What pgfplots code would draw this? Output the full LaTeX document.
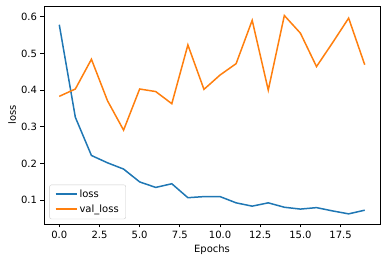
\documentclass[border=0pt]{standalone}
\usepackage{fontspec}
\setmainfont{DejaVu Sans}
\usepackage{pgfplots}
\pgfplotsset{compat=1.18}
\definecolor{mplblue}{HTML}{1F77B4}
\definecolor{mplorange}{HTML}{FF7F0E}
\begin{document}
\begin{tikzpicture}
\path[use as bounding box] (-44pt,-38pt) rectangle (342pt,224pt);
\begin{axis}[
  at={(0,0)}, anchor=south west,
  scale only axis, width=336pt, height=218pt,
  xmin=-0.95, xmax=19.95, ymin=0.0354, ymax=0.629,
  xtick={0,2.5,...,17.5}, ytick={0.1,0.2,0.3,0.4,0.5,0.6},
  tick align=outside, tick pos=left,
  major tick length=3.5pt,
  tick style={black, line width=0.8pt},
  axis line style={line width=0.8pt},
  font=\fontsize{10}{12}\selectfont,
  /pgf/number format/assume math mode=true,
  xticklabel style={/pgf/number format/.cd, fixed, fixed zerofill, precision=1},
  yticklabel style={/pgf/number format/.cd, fixed, fixed zerofill, precision=1},
  xlabel={Epochs}, ylabel={loss},
  xlabel style={at={(axis description cs:0.5,-0.119)}, anchor=center},
  ylabel style={at={(axis description cs:-0.095,0.5)}, anchor=center},
  legend style={at={(axis description cs:0.016,0.022)}, anchor=south west,
    draw=black!20, rounded corners=2pt, fill=white, fill opacity=0.8, text opacity=1, draw opacity=1,
    font=\fontsize{10}{12}\selectfont, row sep=2pt, inner xsep=5pt, inner ysep=3pt},
  legend cell align=left,
  legend image code/.code={\draw[#1, line width=2pt, opacity=1] (0pt,0pt) -- (21pt,0pt);},
]
\addplot[mplblue, line width=1.5pt] coordinates {
(0,0.578) (1,0.326) (2,0.222) (3,0.202) (4,0.185) (5,0.150) (6,0.135) (7,0.145)
(8,0.107) (9,0.110) (10,0.110) (11,0.093) (12,0.084) (13,0.093) (14,0.081)
(15,0.076) (16,0.080) (17,0.071) (18,0.063) (19,0.073)};
\addlegendentry{loss}
\addplot[mplorange, line width=1.5pt] coordinates {
(0,0.383) (1,0.403) (2,0.484) (3,0.371) (4,0.291) (5,0.403) (6,0.396) (7,0.363)
(8,0.523) (9,0.402) (10,0.441) (11,0.472) (12,0.590) (13,0.400) (14,0.603)
(15,0.555) (16,0.464) (17,0.529) (18,0.596) (19,0.469)};
\addlegendentry{val\_loss}
\end{axis}
\end{tikzpicture}
\end{document}
